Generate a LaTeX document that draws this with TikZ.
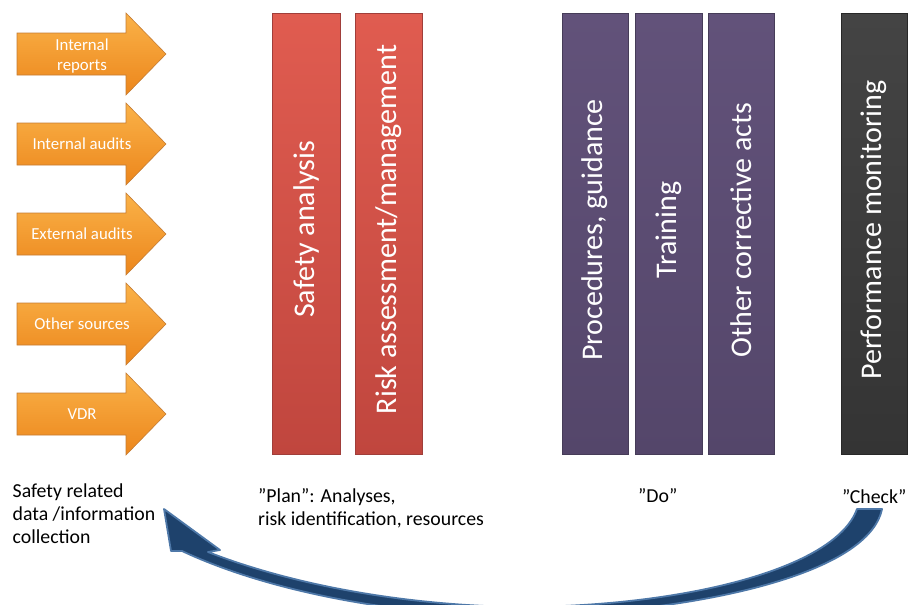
\documentclass[tikz,border=0pt]{standalone}
\usepackage{fontspec}
\setmainfont{Carlito}
\definecolor{orT}{RGB}{250,178,72}
\definecolor{orB}{RGB}{236,134,28}
\definecolor{orD}{RGB}{196,124,52}
\definecolor{redT}{RGB}{224,92,80}
\definecolor{redB}{RGB}{192,70,62}
\definecolor{redD}{RGB}{160,62,58}
\definecolor{purT}{RGB}{98,82,122}
\definecolor{purB}{RGB}{84,70,106}
\definecolor{purD}{RGB}{70,60,88}
\definecolor{darkT}{RGB}{68,68,68}
\definecolor{darkB}{RGB}{52,52,52}
\definecolor{darkD}{RGB}{40,40,40}
\definecolor{navy}{RGB}{30,66,108}
\definecolor{navyE}{RGB}{78,120,168}
\begin{document}
\begin{tikzpicture}[x=1pt,y=-1pt,
  srcarrow/.style={top color=orT, bottom color=orB, draw=orD, line width=0.6pt},
  srclabel/.style={text=white, font=\fontsize{16.8}{20}\selectfont, align=center, inner sep=0pt},
  barbox/.style={rectangle, inner sep=0pt, minimum height=441pt, minimum width=67pt, line width=0.8pt},
  redbar/.style={barbox, top color=redT, bottom color=redB, draw=redD},
  purbar/.style={barbox, top color=purT, bottom color=purB, draw=purD},
  darkbar/.style={barbox, top color=darkT, bottom color=darkB, draw=darkD},
  bartext/.style={rotate=90, text=white, font=\fontsize{30}{32}\selectfont, inner sep=0pt, xshift=4pt},
  caption/.style={text=black, font=\fontsize{19.8}{23}\selectfont, align=left, inner sep=0pt},
  loop/.style={fill=navy, draw=navyE, line width=1.8pt, line join=round}
]
\useasboundingbox (0,0) rectangle (908,605);

% source arrows
\foreach \cy/\ty/\nm/\txt in {54/56/ir/{Internal\\reports},144/144/ia/{Internal audits},234/234/ea/{External audits},324/324/os/{Other sources},414/414/vdr/{VDR}}{
  \path[srcarrow] (17,{\cy-21}) -- (126,{\cy-21}) -- (126,{\cy-41}) -- (166,\cy) -- (126,{\cy+41}) -- (126,{\cy+21}) -- (17,{\cy+21}) -- cycle;
  \node[srclabel] (\nm) at (82,\ty) {\txt};
}

% plan bars
\node[redbar, minimum width=68pt] (sab) at (306,233.5) {};
\node[bartext] (sat) at (sab.center) {Safety analysis};
\node[redbar] (rab) at (388.5,233.5) {};
\node[bartext] (rat) at (rab.center) {Risk assessment/management};

% do bars
\node[purbar, minimum width=66pt] (prb) at (595,234) {};
\node[bartext] (prt) at (prb.center) {Procedures, guidance};
\node[purbar] (trb) at (668.5,234) {};
\node[bartext] (trt) at (trb.center) {Training};
\node[purbar, minimum width=66pt] (ocb) at (741,234) {};
\node[bartext] (oct) at (ocb.center) {Other corrective acts};

% check bar
\node[darkbar, minimum width=66pt] (pmb) at (874,234) {};
\node[bartext] (pmt) at (pmb.center) {Performance monitoring};

% captions
\node[caption, anchor=north west] (collect) at (12.5,484) {Safety related\\data /information\\collection};
\node[caption, anchor=north west] (plan) at (258,488) {”Plan”: Analyses,\\risk identification, resources};
\node[caption, anchor=base west] (do) at (638,502) {”Do”};
\node[caption, anchor=base west] (check) at (842,503) {”Check”};

% loop arrow
\begin{scope}
\clip (0,0) rectangle (908,605);
\path[loop] (164,509) -- (220,550) -- (208,552)
  .. controls (290,584) and (400,605) .. (517,607)
  .. controls (680,607) and (835,570) .. (857,509)
  -- (882,509)
  .. controls (868,578) and (680,614) .. (520,616)
  .. controls (420,617) and (280,597) .. (182,551)
  -- (171,551) -- cycle;
\end{scope}
\end{tikzpicture}
\end{document}
